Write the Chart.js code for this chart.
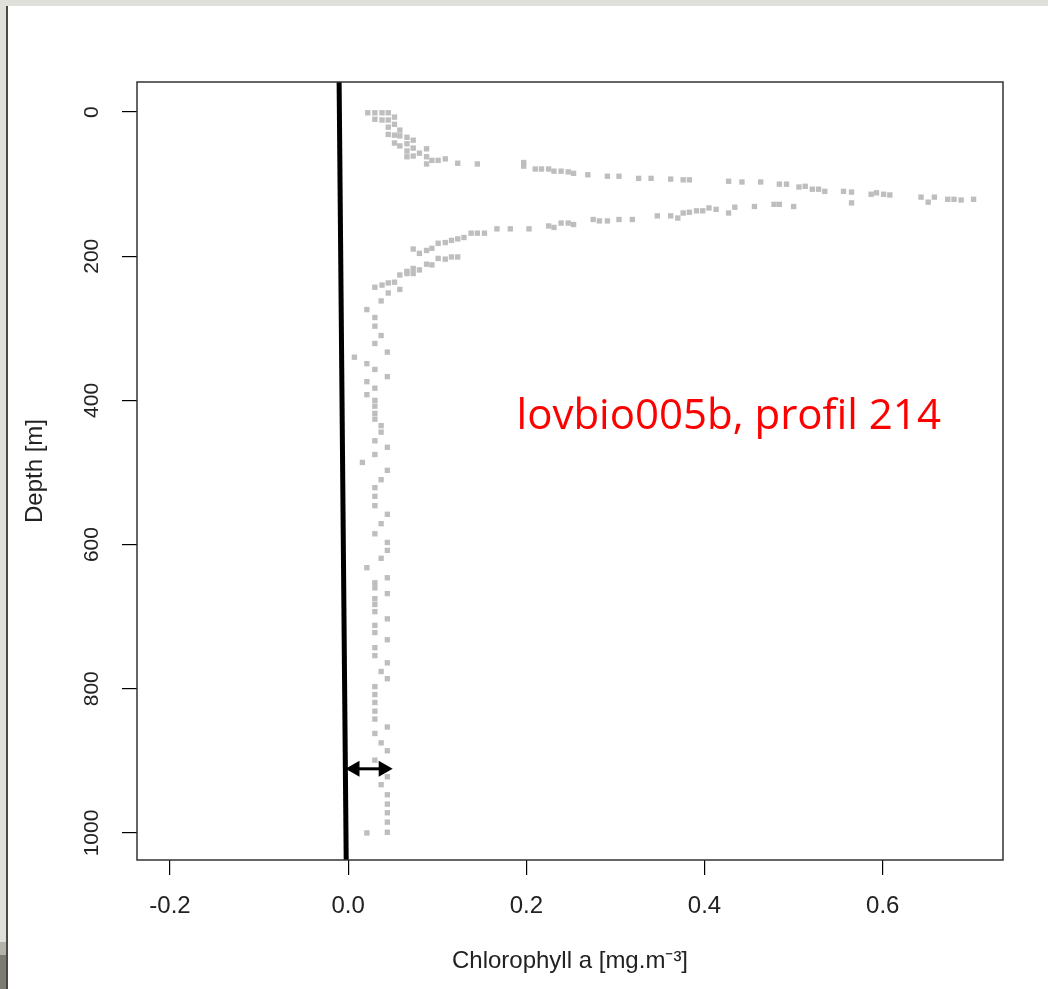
<!DOCTYPE html>
<html>
<head>
<meta charset="utf-8">
<script src="https://cdn.jsdelivr.net/npm/chart.js@4.4.1/dist/chart.umd.min.js"></script>
<style>
  body { margin: 0; width: 1048px; height: 989px; overflow: hidden; position: relative; background: #e0e0da; }
  #paper { position: absolute; left: 6px; top: 6px; right: 0; bottom: 0; background: #fff; border-left: 2px solid #4a4a42; }
  #strip1 { position: absolute; left: 0; top: 942px; width: 6px; height: 13px; background: #b4b4ac; }
  #strip2 { position: absolute; left: 0; top: 955px; width: 6px; height: 34px; background: #7c7c74; }
  #chart { position: absolute; left: 0; top: 0; }
</style>
</head>
<body>
<div id="paper"></div>
<div id="strip1"></div>
<div id="strip2"></div>
<canvas id="chart" width="1048" height="989"></canvas>
<script>
// chlorophyll a [mg.m-3], depth [m]
const surfacePoints = [
    [0.022, 1], [0.030, 1], [0.030, 10], [0.038, 1], [0.038, 11], [0.045, 1], [0.045, 11], [0.045, 21],
    [0.045, 31], [0.052, 7], [0.052, 17], [0.052, 32], [0.052, 43], [0.058, 25], [0.058, 33], [0.058, 47],
    [0.066, 35], [0.066, 44], [0.066, 54], [0.066, 62], [0.073, 39], [0.073, 50], [0.073, 61], [0.080, 57],
    [0.088, 51], [0.088, 62], [0.088, 72], [0.094, 67], [0.101, 67], [0.109, 65], [0.123, 71], [0.145, 72]
];
const upperBranch = [
    [0.197, 70], [0.197, 75], [0.210, 79], [0.217, 79], [0.225, 79], [0.231, 82], [0.239, 82], [0.247, 83],
    [0.253, 85], [0.269, 87], [0.291, 89], [0.304, 89], [0.326, 92], [0.340, 92], [0.362, 93], [0.376, 94],
    [0.383, 94], [0.427, 96], [0.442, 97], [0.463, 97], [0.484, 100], [0.492, 100], [0.506, 104], [0.513, 103],
    [0.521, 107], [0.528, 107], [0.535, 110], [0.556, 110], [0.565, 111], [0.587, 114], [0.593, 112],
    [0.601, 114], [0.608, 115], [0.643, 118], [0.651, 125], [0.658, 118], [0.673, 121], [0.680, 121],
    [0.688, 122], [0.702, 121]
];
const lowerBranch = [
    [0.565, 126], [0.500, 131], [0.484, 128], [0.478, 128], [0.456, 131], [0.434, 132], [0.427, 140],
    [0.413, 135], [0.405, 133], [0.398, 137], [0.391, 137], [0.383, 139], [0.376, 140], [0.370, 147],
    [0.362, 144], [0.347, 144], [0.319, 149], [0.304, 149], [0.291, 151], [0.282, 151], [0.275, 149],
    [0.253, 156], [0.247, 154], [0.239, 154], [0.231, 160], [0.225, 158], [0.203, 162], [0.182, 162],
    [0.167, 162], [0.153, 168], [0.145, 168], [0.138, 168], [0.130, 174], [0.123, 176], [0.116, 178],
    [0.109, 181], [0.101, 182], [0.094, 189], [0.088, 192], [0.080, 196], [0.073, 190],
    [0.123, 201], [0.116, 201], [0.109, 204], [0.101, 203], [0.094, 212], [0.088, 211], [0.080, 219],
    [0.073, 217], [0.073, 224], [0.066, 221], [0.066, 224], [0.058, 226], [0.052, 236], [0.045, 237],
    [0.038, 240], [0.030, 243], [0.045, 251], [0.058, 246], [0.037, 262]
];
const deepColumn = [
    [0.021, 274], [0.030, 285], [0.030, 297], [0.037, 310], [0.030, 321], [0.044, 333], [0.007, 340],
    [0.021, 349], [0.030, 357], [0.044, 367], [0.021, 374], [0.030, 383], [0.021, 392], [0.030, 400],
    [0.030, 408], [0.030, 418], [0.030, 426], [0.037, 435], [0.037, 444], [0.030, 456], [0.044, 465],
    [0.030, 475], [0.016, 486], [0.044, 497], [0.037, 510], [0.030, 521], [0.030, 533], [0.030, 546],
    [0.044, 558], [0.037, 571], [0.030, 585], [0.044, 597], [0.044, 608], [0.037, 619], [0.021, 632],
    [0.044, 646], [0.030, 653], [0.030, 660], [0.044, 668], [0.030, 675], [0.030, 683], [0.030, 693],
    [0.044, 703], [0.030, 712], [0.030, 722], [0.044, 732], [0.030, 743], [0.030, 754], [0.044, 764],
    [0.037, 776], [0.044, 786], [0.030, 797], [0.030, 808], [0.030, 819], [0.030, 831], [0.030, 842],
    [0.044, 853], [0.030, 862], [0.037, 875], [0.044, 886], [0.030, 899], [0.044, 922], [0.037, 933],
    [0.044, 947], [0.044, 960], [0.044, 972], [0.044, 985], [0.044, 999], [0.021, 1000]
];

const profileLine = [[-0.0102, -50], [-0.0021, 1050]];
const arrowFrom = [-0.003, 911];
const arrowTo = [0.050, 911];
const labelText = 'lovbio005b, profil 214';
const labelPos = [0.189, 439];

const xTicks = [-0.2, 0.0, 0.2, 0.4, 0.6];
const yTicks = [0, 200, 400, 600, 800, 1000];
const xRange = [-0.237, 0.735];
const yRange = [-41.7, 1037.5];

const FONT_FAMILY = '"Liberation Sans", Arial, sans-serif';
const X_TICK_FONT = { family: FONT_FAMILY, size: 24 };
const Y_TICK_FONT = { family: FONT_FAMILY, size: 21 };
const TITLE_FONT = { family: FONT_FAMILY, size: 24 };

function toXY(pairs) {
    return pairs.map(p => ({ x: p[0], y: p[1] }));
}

const allPoints = [].concat(surfacePoints, upperBranch, lowerBranch, deepColumn);

// box around plot region, like R's box()
const boxPlugin = {
    id: 'box',
    afterDraw(chart) {
        const { ctx, chartArea } = chart;
        ctx.save();
        ctx.strokeStyle = '#333';
        ctx.lineWidth = 1.5;
        ctx.strokeRect(chartArea.left, chartArea.top, chartArea.right - chartArea.left, chartArea.bottom - chartArea.top);
        ctx.restore();
    }
};

const annotationPlugin = {
    id: 'annotations',
    afterDatasetsDraw(chart) {
        const { ctx } = chart;
        const xs = chart.scales.x, ys = chart.scales.y;

        // double arrow
        const x1 = xs.getPixelForValue(arrowFrom[0]);
        const x2 = xs.getPixelForValue(arrowTo[0]);
        const y = ys.getPixelForValue(arrowFrom[1]);
        const head = 14, half = 8;
        ctx.save();
        ctx.fillStyle = '#000';
        ctx.strokeStyle = '#000';
        ctx.lineWidth = 3;
        ctx.beginPath();
        ctx.moveTo(x1 + head - 2, y);
        ctx.lineTo(x2 - head + 2, y);
        ctx.stroke();
        ctx.beginPath();
        ctx.moveTo(x1, y);
        ctx.lineTo(x1 + head, y - half);
        ctx.lineTo(x1 + head, y + half);
        ctx.closePath();
        ctx.fill();
        ctx.beginPath();
        ctx.moveTo(x2, y);
        ctx.lineTo(x2 - head, y - half);
        ctx.lineTo(x2 - head, y + half);
        ctx.closePath();
        ctx.fill();

        // red label
        ctx.fillStyle = '#ff0000';
        ctx.font = '42px "Open Sans", "Noto Sans", sans-serif';
        ctx.textBaseline = 'alphabetic';
        ctx.textAlign = 'left';
        ctx.fillText(labelText, xs.getPixelForValue(labelPos[0]), ys.getPixelForValue(labelPos[1]));
        ctx.restore();
    }
};

const ctx = document.getElementById('chart').getContext('2d');
new Chart(ctx, {
    data: {
        datasets: [
            {
                type: 'scatter',
                data: toXY(allPoints),
                pointStyle: 'rect',
                pointRadius: 3.8,
                backgroundColor: '#bebebe',
                borderWidth: 0,
                order: 2
            },
            {
                type: 'line',
                data: toXY(profileLine),
                borderColor: '#000',
                borderWidth: 5,
                pointRadius: 0,
                tension: 0,
                order: 1
            }
        ]
    },
    options: {
        responsive: false,
        animation: false,
        devicePixelRatio: 1,
        layout: { padding: { top: 82, right: 45, left: 0, bottom: 0 } },
        plugins: {
            legend: { display: false },
            tooltip: { enabled: false }
        },
        scales: {
            x: {
                type: 'linear',
                min: xRange[0],
                max: xRange[1],
                afterBuildTicks: scale => { scale.ticks = xTicks.map(v => ({ value: v })); },
                afterFit: scale => { scale.height = 129; },
                border: { display: false },
                grid: { drawOnChartArea: false, drawTicks: true, tickLength: 15, color: '#000', lineWidth: 1.2 },
                ticks: {
                    color: '#222',
                    font: X_TICK_FONT,
                    padding: 17,
                    maxRotation: 0,
                    callback: v => v.toFixed(1)
                },
                title: {
                    display: true,
                    text: 'Chlorophyll a [mg.m⁻³]',
                    color: '#222',
                    font: TITLE_FONT,
                    padding: { top: 0, bottom: 13 }
                }
            },
            y: {
                type: 'linear',
                reverse: true,
                min: yRange[0],
                max: yRange[1],
                afterBuildTicks: scale => { scale.ticks = yTicks.map(v => ({ value: v })); },
                afterFit: scale => { scale.width = 137; },
                border: { display: false },
                grid: { drawOnChartArea: false, drawTicks: true, tickLength: 15, color: '#000', lineWidth: 1.2 },
                ticks: {
                    color: '#222',
                    font: Y_TICK_FONT,
                    padding: 6,
                    minRotation: 90,
                    maxRotation: 90,
                    crossAlign: 'center',
                    callback: v => String(v)
                },
                title: {
                    display: true,
                    text: 'Depth [m]',
                    color: '#222',
                    font: TITLE_FONT,
                    padding: { top: 21, bottom: 0 }
                }
            }
        }
    },
    plugins: [boxPlugin, annotationPlugin]
});
</script>
</body>
</html>
